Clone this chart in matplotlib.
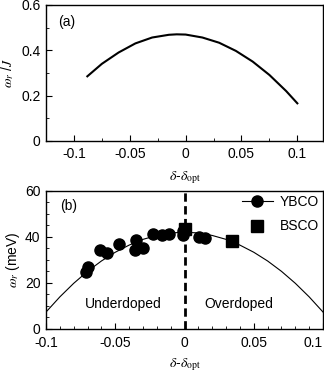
import matplotlib
matplotlib.use("Agg")
import matplotlib.pyplot as plt
from matplotlib.ticker import MultipleLocator
from matplotlib.lines import Line2D

plt.rcParams['font.family'] = ['Liberation Sans', 'DejaVu Sans']
plt.rcParams['mathtext.fontset'] = 'stix'
plt.rcParams['font.size'] = 10

# panel (a): omega_r / J vs doping
xa = [-0.088, -0.075, -0.06, -0.045, -0.03, -0.015, -0.008, 0.0, 0.015, 0.03,
      0.045, 0.06, 0.075, 0.09, 0.1]
ya = [0.285, 0.34, 0.39, 0.43, 0.456, 0.468, 0.47, 0.469, 0.456, 0.433,
      0.397, 0.35, 0.291, 0.22, 0.166]

# panel (b): fit curve
xfit = [-0.1, -0.09, -0.08, -0.07, -0.06, -0.05, -0.04, -0.03, -0.02, -0.01, 0.0,
        0.01, 0.02, 0.03, 0.04, 0.05, 0.06, 0.07, 0.08, 0.09, 0.1]
yfit = [7.3, 13.9, 19.8, 25.0, 29.5, 33.3, 36.4, 38.9, 40.6, 41.7, 42.0,
        41.7, 40.6, 38.9, 36.4, 33.3, 29.5, 25.0, 19.8, 13.9, 7.3]

# YBCO data
x_ybco = [-0.071, -0.070, -0.061, -0.056, -0.047, -0.035, -0.036, -0.030,
          -0.023, -0.016, -0.011, -0.001, -0.001, 0.0105, 0.015]
y_ybco = [24.5, 27.0, 34.3, 33.0, 37.0, 38.7, 34.3, 35.3,
          41.2, 40.6, 41.2, 40.9, 42.5, 40.1, 39.7]

# BSCO data
x_bsco = [0.0, 0.034]
y_bsco = [43.5, 38.0]

fig = plt.figure(figsize=(3.24, 3.72), dpi=100)
ax1 = fig.add_axes([0.142, 0.621, 0.855, 0.366])
ax2 = fig.add_axes([0.142, 0.116, 0.855, 0.371])

ax1.plot(xa, ya, color='black', lw=1.5)
ax1.set_xlim(-0.125, 0.123)
ax1.set_ylim(0, 0.6)
ax1.set_xticks([-0.1, -0.05, 0, 0.05, 0.1])
ax1.set_xticklabels(['-0.1', '-0.05', '0', '0.05', '0.1'])
ax1.set_yticks([0, 0.2, 0.4, 0.6])
ax1.set_yticklabels(['0', '0.2', '0.4', '0.6'])
ax1.xaxis.set_minor_locator(MultipleLocator(0.025))
ax1.yaxis.set_minor_locator(MultipleLocator(0.1))
ax1.set_xlabel(r'$\delta$-$\delta_{\rm opt}$', fontsize=10, labelpad=6)
ax1.set_ylabel(r'$\omega_r$ /$J$', fontsize=10, labelpad=4)
ax1.text(0.045, 0.875, '(a)', transform=ax1.transAxes, fontsize=10, va='center')

ax2.plot(xfit, yfit, color='black', lw=0.8)
ax2.axvline(0, color='black', lw=2, ls=(0, (3, 1.6)))
ax2.plot(x_ybco, y_ybco, 'o', color='black', ms=8, label='YBCO')
ax2.plot(x_bsco, y_bsco, 's', color='black', ms=8, label='BSCO')
ax2.set_xlim(-0.1, 0.1)
ax2.set_ylim(0, 60)
ax2.set_xticks([-0.1, -0.05, 0, 0.05, 0.1])
ax2.set_xticklabels(['-0.1', '-0.05', '0', '0.05', '0.1'])
ax2.set_yticks([0, 20, 40, 60])
ax2.xaxis.set_minor_locator(MultipleLocator(0.01))
ax2.yaxis.set_minor_locator(MultipleLocator(5))
ax2.get_xticklabels()[-1].set_ha('right')
ax2.set_xlabel(r'$\delta$-$\delta_{\rm opt}$', fontsize=10, labelpad=5)
ax2.set_ylabel(r'$\omega_r$ (meV)', fontsize=10, labelpad=2)
ax2.text(0.05, 0.86, '(b)', transform=ax2.transAxes, fontsize=10)
ax2.text(-0.044, 10.6, 'Underdoped', ha='center', va='center', fontsize=10)
ax2.text(0.039, 10.6, 'Overdoped', ha='center', va='center', fontsize=10)

h1 = Line2D([], [], color='black', lw=0.8, marker='o', ms=8)
h2 = Line2D([], [], color='black', lw=0, marker='s', ms=8)
ax2.legend([h1, h2], ['YBCO', 'BSCO'], loc='upper right', frameon=False,
           fontsize=10, handlelength=2.2, borderaxespad=0.1, handletextpad=0.5,
           labelspacing=0.75, borderpad=0.2)

for ax in (ax1, ax2):
    ax.tick_params(which='both', direction='in', top=False, right=False,
                   labelsize=10)
    ax.tick_params(which='major', length=4, pad=4)
    ax.tick_params(which='minor', length=2.5)
    for s in ax.spines.values():
        s.set_linewidth(1.0)
ax2.tick_params(axis='x', which='major', pad=5)

fig.savefig('out.png', dpi=100)
